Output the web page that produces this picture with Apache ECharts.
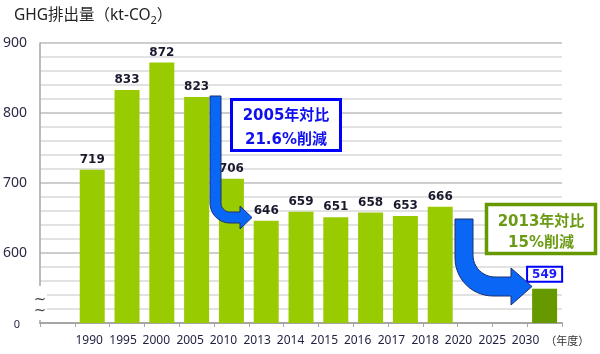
<!DOCTYPE html>
<html>
<head>
<meta charset="utf-8">
<script src="https://cdn.jsdelivr.net/npm/echarts@6/dist/echarts.min.js"></script>
<style>
  html, body { margin: 0; padding: 0; background: #fff; }
  #chart { width: 600px; height: 354px; }
</style>
</head>
<body>
<div id="chart"></div>
<script>
// first slot is the empty column under the axis break
var years = ['', '1990', '1995', '2000', '2005', '2010', '2013', '2014', '2015', '2016', '2017', '2018', '2020', '2025', '2030'];
var emissions = [null, 719, 833, 872, 823, 706, 646, 659, 651, 658, 653, 666, null, null, 549];
var yTicks = [500, 600, 700, 800, 900]; // 500 is shown as "0" (broken axis)

var labelFont = "'DejaVu Sans', 'Noto Sans CJK JP', sans-serif";
var cjkFont = "'Noto Sans', 'Noto Sans CJK JP', sans-serif";

// the year labels in the picture drift a little left of the bars
var xRich = {};
for (var k = 0; k < years.length; k++) {
  var shift = 1.8 + 1.22 * k;
  xRich['s' + k] = { padding: [0, Math.round(shift * 2), 0, 0] };
}

var last = emissions.length - 1;
var barData = emissions.map(function (v, i) {
  if (i !== last) return v;
  return {
    value: v,
    itemStyle: { color: '#669900' },
    label: {
      color: '#1a1aff',
      backgroundColor: '#fff',
      borderColor: '#0000ff',
      borderWidth: 2,
      padding: [1, 4, 0, 4],
      distance: 8
    }
  };
});

// bent arrow outline: down the shaft, round the corner, out to the head
function arc(cx, cy, r, a0, a1) {
  var pts = [];
  for (var s = 0; s <= 12; s++) {
    var a = (a0 + (a1 - a0) * s / 12) * Math.PI / 180;
    pts.push([cx + r * Math.cos(a), cy + r * Math.sin(a)]);
  }
  return pts;
}
function bentArrow(x0, x1, top, yTop, yBot, headX, headTop, headBot, tipX, rOut, rIn) {
  var pts = [[x0, top]];
  pts = pts.concat(arc(x0 + rOut, yBot - rOut, rOut, 180, 90));
  pts.push([headX, yBot], [headX, headBot], [tipX, (headTop + headBot) / 2], [headX, headTop], [headX, yTop]);
  pts = pts.concat(arc(x1 + rIn, yTop - rIn, rIn, 90, 180));
  pts.push([x1, top]);
  return pts;
}

var myChart = echarts.init(document.getElementById('chart'));
var option = {
  animation: false,
  title: {
    text: 'GHG排出量（kt-CO{sub|2}）',
    left: 9,
    top: 1,
    textStyle: {
      fontFamily: cjkFont,
      fontSize: 15.5,
      fontWeight: 'normal',
      color: '#222',
      rich: {
        sub: { fontSize: 11, padding: [9, 0, 0, 0], fontFamily: cjkFont, color: '#222' }
      }
    }
  },
  grid: { left: 40, right: 38, top: 43, bottom: 31 },
  xAxis: {
    type: 'category',
    data: years,
    name: '（年度）',
    nameLocation: 'end',
    nameGap: -19,
    nameTextStyle: {
      fontFamily: cjkFont,
      fontSize: 11,
      color: '#333',
      align: 'left',
      verticalAlign: 'top',
      padding: [13, 0, 0, 0]
    },
    axisLine: { lineStyle: { color: '#a6a6a6', width: 2 } },
    axisTick: { show: true, length: 4, lineStyle: { color: '#a6a6a6' } },
    axisLabel: {
      interval: 0,
      margin: 12,
      fontFamily: cjkFont,
      fontSize: 12,
      color: '#1f1f3f',
      formatter: function (v, i) { return '{s' + i + '|' + v + '}'; },
      rich: xRich
    }
  },
  yAxis: {
    type: 'value',
    min: 500,
    max: 900,
    interval: 20,
    axisLine: { show: true, lineStyle: { color: '#a6a6a6', width: 1.5 } },
    axisTick: { show: false },
    axisLabel: {
      margin: 13,
      fontFamily: cjkFont,
      fontSize: 14,
      color: '#2a2a44',
      formatter: function (v) {
        if (yTicks.indexOf(v) < 0) return '';
        return v === 500 ? '{z|0}' : String(v);
      },
      rich: { z: { fontSize: 11, padding: [4, 7, 0, 0], color: '#2a2a44', fontFamily: cjkFont } }
    },
    splitLine: {
      lineStyle: { color: ['#bdbdbd', '#d9d9d9', '#d9d9d9', '#d9d9d9', '#d9d9d9'], width: 1.5 }
    }
  },
  series: [{
    type: 'bar',
    data: barData,
    barWidth: 25,
    itemStyle: { color: '#99cc00' },
    label: {
      show: true,
      position: 'top',
      distance: 4,
      fontFamily: labelFont,
      fontSize: 12,
      fontWeight: 'bold',
      color: '#1a1a2e'
    }
  }],
  graphic: [
    // axis break
    { type: 'rect', z: 100, shape: { x: 33, y: 286, width: 14, height: 34 }, style: { fill: '#fff' } },
    { type: 'text', z: 101, x: 40, y: 300, style: { text: '~', fontSize: 15, fontFamily: labelFont, fill: '#444', align: 'center', verticalAlign: 'middle' } },
    { type: 'text', z: 101, x: 40, y: 311, style: { text: '~', fontSize: 15, fontFamily: labelFont, fill: '#444', align: 'center', verticalAlign: 'middle' } },
    // arrow 2005 -> 2013
    {
      type: 'polygon', z: 100,
      shape: { points: bentArrow(210, 221, 96, 212, 223, 240, 206, 229, 252, 20, 9) },
      style: { fill: '#0a66f5', stroke: '#1b3070', lineWidth: 1 }
    },
    { type: 'rect', z: 100, shape: { x: 231.5, y: 99.5, width: 109, height: 51 }, style: { fill: '#fff', stroke: '#0000ff', lineWidth: 3 } },
    { type: 'text', z: 101, x: 286, y: 116, style: { text: '2005年対比', fontSize: 15, fontWeight: 'bold', fontFamily: labelFont, fill: '#1010ee', align: 'center', verticalAlign: 'middle' } },
    { type: 'text', z: 101, x: 286, y: 140, style: { text: '21.6%削減', fontSize: 15, fontWeight: 'bold', fontFamily: labelFont, fill: '#1010ee', align: 'center', verticalAlign: 'middle' } },
    // arrow 2013 -> 2030
    {
      type: 'polygon', z: 100,
      shape: { points: bentArrow(455, 473, 219, 277, 296, 511, 268, 305, 532, 38, 22) },
      style: { fill: '#0a66f5', stroke: '#1b3070', lineWidth: 1 }
    },
    { type: 'rect', z: 100, shape: { x: 486.5, y: 204.5, width: 109, height: 49 }, style: { fill: '#fff', stroke: '#669900', lineWidth: 3.5 } },
    { type: 'text', z: 101, x: 541, y: 222, style: { text: '2013年対比', fontSize: 15, fontWeight: 'bold', fontFamily: labelFont, fill: '#6b9a14', align: 'center', verticalAlign: 'middle' } },
    { type: 'text', z: 101, x: 541, y: 243, style: { text: '15%削減', fontSize: 15, fontWeight: 'bold', fontFamily: labelFont, fill: '#6b9a14', align: 'center', verticalAlign: 'middle' } }
  ]
};
myChart.setOption(option);
</script>
</body>
</html>
